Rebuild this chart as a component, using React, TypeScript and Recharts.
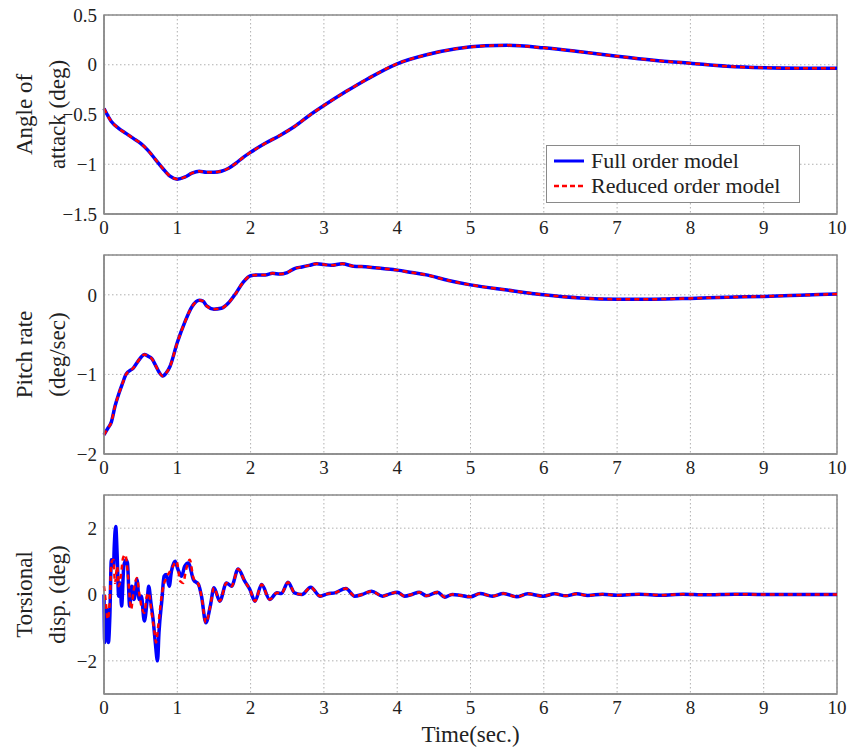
import React from "react";
import {
  LineChart,
  Line,
  XAxis,
  YAxis,
  CartesianGrid,
  ReferenceArea,
  Legend,
} from "recharts";

// time samples and values
const aoaTime = [0, 0.1, 0.2, 0.3, 0.4, 0.5, 0.6, 0.7, 0.8, 0.9, 1.0, 1.1, 1.2, 1.3, 1.4, 1.5, 1.6, 1.7, 1.8, 1.9, 2.0, 2.2, 2.4, 2.6, 2.8, 3.0, 3.3, 3.6, 4.0, 4.4, 4.8, 5.2, 5.5, 6.0, 6.5, 7.0, 7.5, 8.0, 8.5, 9.0, 9.5, 10];
const aoaFull = [-0.44, -0.57, -0.64, -0.69, -0.74, -0.79, -0.86, -0.95, -1.04, -1.12, -1.15, -1.13, -1.09, -1.07, -1.08, -1.08, -1.07, -1.04, -0.99, -0.93, -0.88, -0.79, -0.71, -0.62, -0.51, -0.41, -0.27, -0.14, 0.01, 0.1, 0.16, 0.19, 0.195, 0.17, 0.13, 0.085, 0.045, 0.015, -0.015, -0.03, -0.035, -0.035];
const aoaReduced = [-0.44, -0.57, -0.64, -0.69, -0.74, -0.79, -0.86, -0.95, -1.04, -1.12, -1.15, -1.13, -1.09, -1.07, -1.08, -1.08, -1.07, -1.04, -0.99, -0.93, -0.88, -0.79, -0.71, -0.62, -0.51, -0.41, -0.27, -0.14, 0.01, 0.1, 0.16, 0.19, 0.195, 0.17, 0.13, 0.085, 0.045, 0.015, -0.015, -0.03, -0.035, -0.035];

const pitchTime = [0, 0.05, 0.1, 0.15, 0.2, 0.25, 0.3, 0.4, 0.5, 0.55, 0.6, 0.65, 0.7, 0.75, 0.8, 0.85, 0.9, 1.0, 1.1, 1.2, 1.3, 1.35, 1.4, 1.5, 1.6, 1.7, 1.8, 1.9, 2.0, 2.1, 2.2, 2.3, 2.4, 2.5, 2.6, 2.7, 2.8, 2.9, 3.0, 3.1, 3.25, 3.4, 3.6, 3.8, 4.0, 4.2, 4.4, 4.7, 5.0, 5.5, 6.0, 6.5, 7.0, 7.5, 8.0, 8.5, 9.0, 9.5, 10];
const pitchFull = [-1.76, -1.68, -1.6, -1.4, -1.25, -1.12, -1.0, -0.92, -0.79, -0.75, -0.77, -0.8, -0.88, -0.97, -1.02, -0.98, -0.9, -0.6, -0.35, -0.15, -0.07, -0.08, -0.14, -0.18, -0.17, -0.1, 0.02, 0.16, 0.24, 0.25, 0.25, 0.27, 0.26, 0.28, 0.33, 0.35, 0.37, 0.39, 0.38, 0.37, 0.39, 0.36, 0.35, 0.33, 0.31, 0.28, 0.25, 0.18, 0.125, 0.06, 0.0, -0.04, -0.055, -0.055, -0.045, -0.03, -0.02, -0.005, 0.01];
const pitchReduced = [-1.76, -1.68, -1.6, -1.4, -1.25, -1.12, -1.0, -0.92, -0.79, -0.75, -0.77, -0.8, -0.88, -0.97, -1.02, -0.98, -0.9, -0.6, -0.35, -0.15, -0.07, -0.08, -0.14, -0.18, -0.17, -0.1, 0.02, 0.16, 0.24, 0.25, 0.25, 0.27, 0.26, 0.28, 0.33, 0.35, 0.37, 0.39, 0.38, 0.37, 0.39, 0.36, 0.35, 0.33, 0.31, 0.28, 0.25, 0.18, 0.125, 0.06, 0.0, -0.04, -0.055, -0.055, -0.045, -0.03, -0.02, -0.005, 0.01];

const torsionFullTime = [0, 0.01, 0.04, 0.06, 0.08, 0.1, 0.13, 0.14, 0.16, 0.18, 0.2, 0.22, 0.24, 0.27, 0.3, 0.32, 0.35, 0.38, 0.41, 0.45, 0.48, 0.51, 0.55, 0.59, 0.61, 0.64, 0.67, 0.7, 0.73, 0.75, 0.79, 0.82, 0.85, 0.89, 0.92, 0.97, 1.01, 1.06, 1.1, 1.15, 1.22, 1.29, 1.33, 1.39, 1.45, 1.5, 1.58, 1.67, 1.74, 1.83, 1.92, 1.99, 2.06, 2.15, 2.26, 2.36, 2.42, 2.51, 2.6, 2.7, 2.82, 2.95, 3.05, 3.15, 3.3, 3.42, 3.52, 3.65, 3.8, 3.9, 4.0, 4.1, 4.2, 4.3, 4.4, 4.55, 4.65, 4.75, 4.85, 5.0, 5.13, 5.3, 5.45, 5.63, 5.78, 5.99, 6.15, 6.3, 6.45, 6.6, 6.8, 7.0, 7.3, 7.6, 7.9, 8.2, 8.6, 9.0, 9.5, 10];
const torsionFull = [0.0, -1.45, -0.45, -1.45, -0.65, 1.05, 0.85, 1.45, 2.05, 1.15, -0.05, 0.35, -0.35, 0.85, 1.05, 0.95, -0.35, 0.25, -0.15, 0.45, -0.15, -0.05, -0.8, -0.15, 0.25, -0.25, -0.75, -1.45, -2.0, -1.15, -0.15, 0.55, 0.6, 0.25, 0.7, 1.0, 0.75, 0.55, 0.85, 0.95, 0.45, 0.3, -0.05, -0.85, -0.35, 0.2, -0.2, 0.35, 0.25, 0.77, 0.4, 0.15, -0.2, 0.3, -0.15, 0.05, 0.03, 0.37, 0.05, 0.0, 0.22, -0.05, 0.02, 0.05, 0.18, -0.05, 0.0, 0.1, -0.05, 0.02, 0.07, -0.05, 0.0, 0.07, -0.04, 0.07, -0.08, 0.0, -0.02, -0.07, 0.03, -0.05, 0.03, -0.07, 0.02, -0.05, 0.02, -0.04, 0.02, -0.03, 0.01, -0.02, 0.01, -0.02, 0.01, -0.01, 0.01, 0.0, 0.0, 0.0];

const torsionReducedTime = [0, 0.03, 0.05, 0.08, 0.1, 0.13, 0.15, 0.18, 0.2, 0.23, 0.26, 0.29, 0.32, 0.35, 0.37, 0.4, 0.45, 0.48, 0.51, 0.55, 0.58, 0.61, 0.65, 0.69, 0.71, 0.74, 0.78, 0.81, 0.85, 0.9, 0.94, 0.99, 1.04, 1.08, 1.12, 1.17, 1.22, 1.29, 1.33, 1.39, 1.45, 1.5, 1.58, 1.67, 1.74, 1.83, 1.92, 1.99, 2.06, 2.15, 2.26, 2.36, 2.42, 2.51, 2.6, 2.7, 2.82, 2.95, 3.05, 3.15, 3.3, 3.42, 3.52, 3.65, 3.8, 3.9, 4.0, 4.1, 4.2, 4.3, 4.4, 4.55, 4.65, 4.75, 4.85, 5.0, 5.13, 5.3, 5.45, 5.63, 5.78, 5.99, 6.15, 6.3, 6.45, 6.6, 6.8, 7.0, 7.3, 7.6, 7.9, 8.2, 8.6, 9.0, 9.5, 10];
const torsionReduced = [0.25, -0.35, -0.75, -0.15, 0.95, 1.05, 0.35, 0.85, 0.25, 0.55, 1.1, 1.2, 0.75, -0.05, -0.45, 0.05, 0.5, 0.05, -0.35, -0.55, -0.1, 0.05, -0.55, -1.15, -1.45, -0.95, -0.15, 0.25, 0.5, 0.7, 0.85, 1.0, 0.4, 0.35, 0.75, 1.05, 0.5, 0.3, -0.05, -0.85, -0.35, 0.2, -0.2, 0.35, 0.25, 0.77, 0.4, 0.15, -0.2, 0.3, -0.15, 0.05, 0.03, 0.37, 0.05, 0.0, 0.22, -0.05, 0.02, 0.05, 0.18, -0.05, 0.0, 0.1, -0.05, 0.02, 0.07, -0.05, 0.0, 0.07, -0.04, 0.07, -0.08, 0.0, -0.02, -0.07, 0.03, -0.05, 0.03, -0.07, 0.02, -0.05, 0.02, -0.04, 0.02, -0.03, 0.01, -0.02, 0.01, -0.02, 0.01, -0.01, 0.01, 0.0, 0.0, 0.0];

const timeTicks = [0, 1, 2, 3, 4, 5, 6, 7, 8, 9, 10];
const aoaTicks = [-1.5, -1, -0.5, 0, 0.5];
const pitchTicks = [-2, -1, 0];
const torsionTicks = [-2, 0, 2];

const toPoints = (t: number[], v: number[]) => t.map((x, i) => ({ t: x, v: v[i] }));

const FONT = '"Liberation Serif", "Times New Roman", serif';
const FRAME = "#8a8a8a";
const GRID = "#b0b0b0";
const tickStyle = { fontSize: 19, fill: "#222", fontFamily: FONT };
const fmt = (v: number) => (v < 0 ? `\u2212${Math.abs(v)}` : `${v}`);

function AxisTitle({ viewBox, lines }: any) {
  const cy = viewBox.y + viewBox.height / 2;
  const xs = [24, 57];
  return (
    <g>
      {lines.map((s: string, i: number) => (
        <text
          key={s}
          x={xs[i]}
          y={cy}
          transform={`rotate(-90 ${xs[i]} ${cy})`}
          textAnchor="middle"
          dominantBaseline="central"
          fontSize={23}
          fontFamily={FONT}
          fill="#222"
        >
          {s}
        </text>
      ))}
    </g>
  );
}

function LegendBox({ payload }: any) {
  return (
    <div
      style={{
        width: 254,
        height: 58,
        boxSizing: "border-box",
        border: `1.5px solid ${FRAME}`,
        background: "#fff",
        padding: "2px 0 0 6px",
        fontFamily: FONT,
        fontSize: 22,
        color: "#222",
        whiteSpace: "nowrap",
      }}
    >
      {(payload || []).map((p: any, i: number) => (
        <div key={p.value} style={{ display: "flex", alignItems: "center", height: 25 }}>
          <svg width={38} height={10}>
            <line
              x1={1}
              x2={31}
              y1={5}
              y2={5}
              stroke={p.color}
              strokeWidth={i === 0 ? 3 : 2.5}
              strokeDasharray={i === 0 ? undefined : "5 3"}
            />
          </svg>
          <span>{p.value}</span>
        </div>
      ))}
    </div>
  );
}

interface PanelProps {
  top: number;
  height: number;
  xHeight: number;
  full: { t: number; v: number }[];
  reduced: { t: number; v: number }[];
  domain: [number, number];
  ticks: number[];
  title: string[];
  legend?: boolean;
  xLabel?: string;
}

function Panel({ top, height, xHeight, full, reduced, domain, ticks, title, legend, xLabel }: PanelProps) {
  return (
    <div style={{ position: "absolute", left: 0, top }}>
      <LineChart
        width={851}
        height={height}
        margin={{ top: 15, right: 14, left: 0, bottom: 0 }}
        style={{ overflow: "visible" }}
      >
        <CartesianGrid stroke={GRID} strokeDasharray="1.5 2.5" />
        <XAxis
          dataKey="t"
          type="number"
          domain={[0, 10]}
          ticks={timeTicks}
          height={xHeight}
          tickSize={0}
          tickMargin={7}
          tick={tickStyle}
          axisLine={{ stroke: FRAME, strokeWidth: 1.5 }}
          allowDuplicatedCategory={false}
          label={
            xLabel
              ? { value: xLabel, position: "insideBottom", offset: 14, fontSize: 23, fontFamily: FONT, fill: "#222" }
              : undefined
          }
        />
        <YAxis
          type="number"
          domain={domain}
          ticks={ticks}
          width={104}
          tickSize={0}
          tickMargin={7}
          tick={tickStyle}
          tickFormatter={fmt}
          axisLine={{ stroke: FRAME, strokeWidth: 1.5 }}
          label={<AxisTitle lines={title} />}
        />
        <ReferenceArea x1={0} x2={10} y1={domain[0]} y2={domain[1]} fill="none" stroke={FRAME} strokeWidth={1.5} />
        <Line
          data={full}
          dataKey="v"
          name="Full order model"
          type="monotone"
          stroke="#0000ff"
          strokeWidth={3.5}
          dot={false}
          isAnimationActive={false}
        />
        <Line
          data={reduced}
          dataKey="v"
          name="Reduced order model"
          type="monotone"
          stroke="#ff0000"
          strokeWidth={2.5}
          strokeDasharray="5 4"
          dot={false}
          isAnimationActive={false}
        />
        {legend && (
          <Legend
            layout="horizontal"
            verticalAlign="middle"
            align="center"
            content={<LegendBox />}
            wrapperStyle={{ left: 546, top: 145, width: 254, height: 58 }}
          />
        )}
      </LineChart>
    </div>
  );
}

export default function App() {
  return (
    <div style={{ position: "fixed", left: 0, top: 0, width: 851, height: 756, background: "#fff" }}>
      <Panel
        top={0}
        height={240}
        xHeight={26}
        full={toPoints(aoaTime, aoaFull)}
        reduced={toPoints(aoaTime, aoaReduced)}
        domain={[-1.5, 0.5]}
        ticks={aoaTicks}
        title={["Angle of", "attack (deg)"]}
        legend
      />
      <Panel
        top={240}
        height={240}
        xHeight={26}
        full={toPoints(pitchTime, pitchFull)}
        reduced={toPoints(pitchTime, pitchReduced)}
        domain={[-2, 0.5]}
        ticks={pitchTicks}
        title={["Pitch rate", "(deg/sec)"]}
      />
      <Panel
        top={480}
        height={276}
        xHeight={62}
        full={toPoints(torsionFullTime, torsionFull)}
        reduced={toPoints(torsionReducedTime, torsionReduced)}
        domain={[-3, 3]}
        ticks={torsionTicks}
        title={["Torsional", "disp. (deg)"]}
        xLabel="Time(sec.)"
      />
    </div>
  );
}
